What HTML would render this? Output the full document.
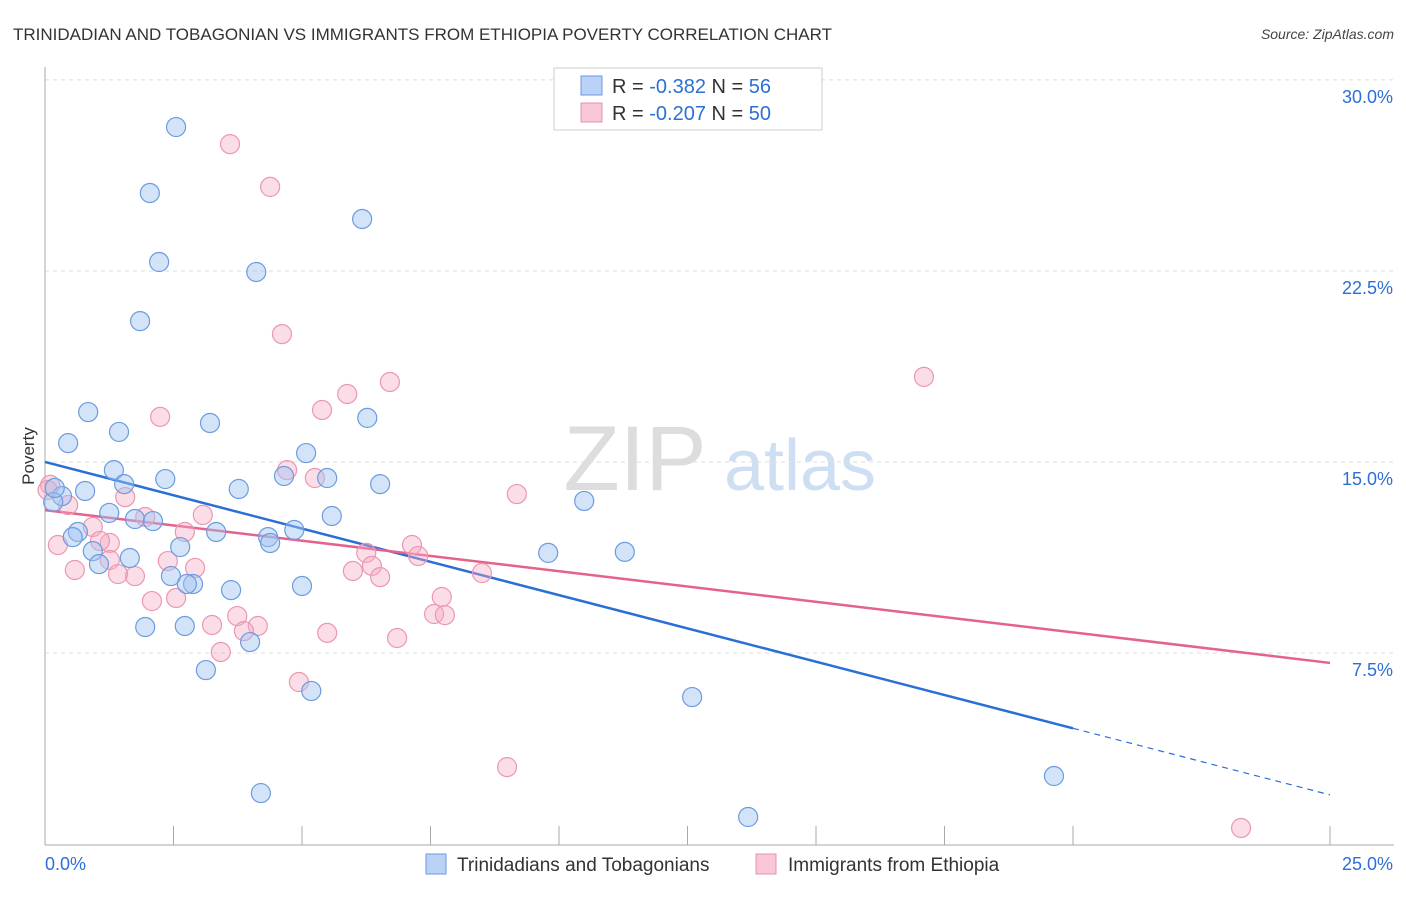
<!DOCTYPE html>
<html><head><meta charset="utf-8"><style>
body{margin:0;background:#fff;font-family:"Liberation Sans",sans-serif}
svg text{font-family:"Liberation Sans",sans-serif}
</style></head><body>
<svg id="chart" width="1406" height="892" xmlns="http://www.w3.org/2000/svg">
<text x="13" y="40" font-size="17" fill="#333">TRINIDADIAN AND TOBAGONIAN VS IMMIGRANTS FROM ETHIOPIA POVERTY CORRELATION CHART</text>
<text x="1394" y="39" font-size="14" fill="#444" font-style="italic" text-anchor="end">Source: ZipAtlas.com</text>
<g><text x="635" y="490" font-size="92" fill="#ddd" font-family="Liberation Serif" text-anchor="middle">ZIP</text><text x="800" y="490" font-size="72" fill="#cfdff3" text-anchor="middle">atlas</text></g>
<g id="grid"></g>
<g id="axes"></g>
<g id="trends"></g>
<g id="points"></g>
<text transform="translate(34,456) rotate(-90)" font-size="17" fill="#333" text-anchor="middle">Poverty</text>
<g>
<rect x="554" y="68" width="268" height="62" fill="#fff" stroke="#ccc"/>
<g><rect x="581" y="76" width="21" height="19" fill="#b9d2f5" stroke="#6a9ae0"/><text x="612" y="93" font-size="20" fill="#333">R = <tspan fill="#2c6fd6">-0.382</tspan>   N = <tspan fill="#2c6fd6">56</tspan></text></g>
<g><rect x="581" y="103" width="21" height="19" fill="#f8c6d5" stroke="#e890aa"/><text x="612" y="120" font-size="20" fill="#333">R = <tspan fill="#2c6fd6">-0.207</tspan>   N = <tspan fill="#2c6fd6">50</tspan></text></g>
</g>
<g>
<rect x="426" y="854" width="20" height="20" fill="#b9d2f5" stroke="#6a9ae0"/><text x="457" y="871" font-size="19" fill="#333">Trinidadians and Tobagonians</text>
<rect x="756" y="854" width="20" height="20" fill="#f8c6d5" stroke="#e890aa"/><text x="788" y="871" font-size="19" fill="#333">Immigrants from Ethiopia</text>
</g>
</svg>
<script>
const blueX=[2.55,2.04,2.22,4.11,6.17,1.85,0.84,1.44,0.45,3.21,6.27,5.08,1.34,2.34,4.65,5.49,6.52,3.77,0.78,1.54,0.33,0.16,0.19,10.49,1.25,1.75,2.10,5.58,0.64,0.54,3.33,4.34,4.38,4.85,2.63,0.93,1.65,1.05,9.79,11.28,2.45,2.88,2.76,5.0,3.62,1.95,2.72,3.99,3.13,5.18,12.59,19.63,4.20,13.68];
const blueY=[28.15,25.56,22.85,22.46,24.54,20.53,16.96,16.18,15.74,16.53,16.73,15.35,14.68,14.33,14.45,14.37,14.13,13.94,13.86,14.13,13.66,13.43,13.98,13.47,13.0,12.76,12.68,12.88,12.25,12.05,12.25,12.05,11.82,12.33,11.66,11.5,11.23,10.99,11.43,11.47,10.52,10.21,10.21,10.13,9.97,8.52,8.56,7.93,6.83,6.01,5.77,2.67,2.0,1.06];
const pinkX=[3.60,4.38,4.61,17.10,6.71,5.88,2.24,5.39,4.71,5.25,9.18,1.56,0.45,0.10,1.95,0.93,2.72,3.07,7.14,7.26,6.25,6.36,1.26,1.07,0.25,0.58,1.26,1.75,1.42,2.92,2.39,6.52,5.99,8.50,2.55,2.08,7.72,7.57,7.78,3.74,3.25,4.14,3.87,5.49,6.85,3.42,4.94,8.99,23.27,0.05];
const pinkY=[27.48,25.8,20.02,18.34,18.14,17.67,16.77,17.04,14.68,14.37,13.74,13.62,13.31,14.1,12.84,12.45,12.25,12.92,11.74,11.31,11.43,10.92,11.82,11.9,11.74,10.76,11.15,10.52,10.6,10.84,11.11,10.48,10.72,10.64,9.66,9.54,9.70,9.03,8.99,8.95,8.6,8.56,8.36,8.29,8.09,7.54,6.36,3.02,0.63,13.9];
const yTicks=[7.5,15,22.5,30];
const yTickLabels=["7.5%","15.0%","22.5%","30.0%"];
const xTicks=[0,2.5,5,7.5,10,12.5,15,17.5,20,25];
const blueTrend=[15.0,1.93]; // value at x=0 and x=25
const blueSolidEnd=20;
const pinkTrend=[13.11,7.11];
const NS="http://www.w3.org/2000/svg";
const sx=v=>45+v*51.4;
const sy=v=>653-(v-7.5)*25.47;
function mk(tag,attrs,parent){const e=document.createElementNS(NS,tag);for(const k in attrs)e.setAttribute(k,attrs[k]);parent.appendChild(e);return e;}
const grid=document.getElementById('grid'),axes=document.getElementById('axes'),tr=document.getElementById('trends'),pts=document.getElementById('points');
yTicks.forEach((t,i)=>{
 const l=mk('line',{x1:45,x2:1394,y1:sy(t),y2:sy(t),stroke:'#ddd','stroke-dasharray':'4,4'},grid);
 
 
 const tx=mk('text',{x:1393,y:sy(t)+23,'font-size':18,fill:'#2c6fd6','text-anchor':'end'},axes);
 tx.textContent=yTickLabels[i];
 
 
});
const ya=mk('line',{x1:45,x2:45,y1:67,y2:845,stroke:'#aaa'},axes);


const xa=mk('line',{x1:45,x2:1394,y1:845,y2:845,stroke:'#aaa'},axes);


xTicks.forEach(t=>{
 const l=mk('line',{x1:sx(t),x2:sx(t),y1:826,y2:845,stroke:'#aaa'},axes);
 
 
});
[[0,"0.0%","start",45],[25,"25.0%","end",1393]].forEach(d=>{
 const tx=mk('text',{x:d[3],y:870,'font-size':18,fill:'#2c6fd6','text-anchor':d[2]},axes);
 tx.textContent=d[1];
 
 
});
function lineAt(tr2,x){return tr2[0]+(tr2[1]-tr2[0])*x/25;}
const b1=mk('line',{x1:sx(0),y1:sy(blueTrend[0]),x2:sx(blueSolidEnd),y2:sy(lineAt(blueTrend,blueSolidEnd)),stroke:'#2a6fd6','stroke-width':2.5},tr);


const b2=mk('line',{x1:sx(blueSolidEnd),y1:sy(lineAt(blueTrend,blueSolidEnd)),x2:sx(25),y2:sy(blueTrend[1]),stroke:'#2a6fd6','stroke-width':1.2,'stroke-dasharray':'6,5'},tr);


const p1=mk('line',{x1:sx(0),y1:sy(pinkTrend[0]),x2:sx(25),y2:sy(pinkTrend[1]),stroke:'#e4628c','stroke-width':2.5},tr);


pinkX.forEach((x,i)=>{
 const c=mk('circle',{cx:sx(x),cy:sy(pinkY[i]),r:9.5,fill:'rgba(244,170,195,0.4)',stroke:'#eb97b2','stroke-width':1.2},pts);
 
 
});
blueX.forEach((x,i)=>{
 const c=mk('circle',{cx:sx(x),cy:sy(blueY[i]),r:9.5,fill:'rgba(160,195,240,0.45)',stroke:'#6b9be0','stroke-width':1.2},pts);
 
 
});
</script>
</body></html>
